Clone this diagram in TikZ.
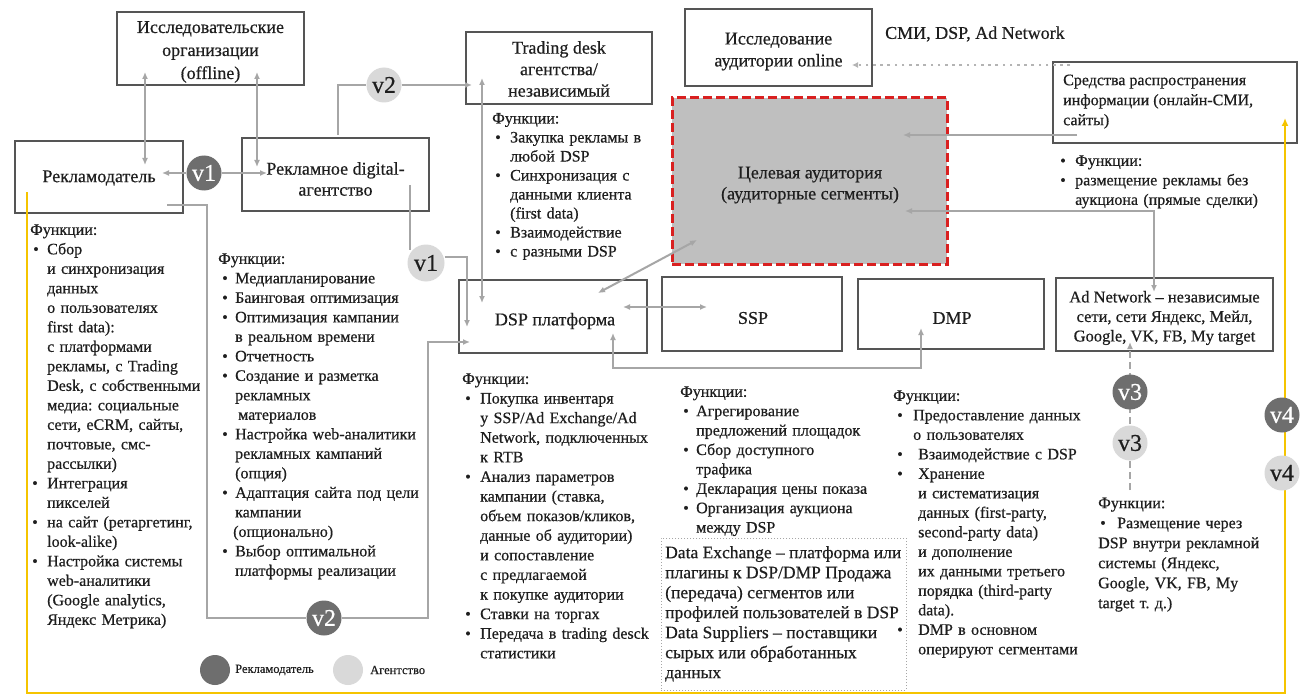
\documentclass[tikz,border=0pt]{standalone}
\usepackage{fontspec}
\setmainfont{Liberation Serif}[FakeBold=0.5]
\usetikzlibrary{arrows.meta}
\frenchspacing
\definecolor{boxc}{HTML}{555555}
\definecolor{linec}{HTML}{A6A6A6}
\definecolor{darkc}{HTML}{6E6E6E}
\definecolor{lightc}{HTML}{D9D9D9}
\definecolor{txt}{HTML}{1E1E1E}
\definecolor{yel}{HTML}{F5C400}
\definecolor{redc}{HTML}{D92020}
\definecolor{tagray}{HTML}{BFBFBF}
\definecolor{dotc}{HTML}{B4B4B4}
\newcommand\bi[2]{\hspace*{#1}\makebox[#2][l]{\textbullet}}
\newcommand\ci[1]{\hspace*{#1}}
\begin{document}
\begin{tikzpicture}[x=1pt,y=-1pt,>={Latex[length=7pt,width=6pt]},
  box/.style={draw=boxc,line width=2.8pt,fill=white,inner sep=0pt},
  boxt/.style={align=center,text=txt,inner sep=0pt,font=\fontsize{18}{23}\selectfont},
  conn/.style={draw=linec,line width=2pt},
  lst/.style={anchor=north west,inner sep=0pt,align=left,text width=270pt,text=txt,font=\fontsize{16}{19.5}\selectfont},
  vd/.style={circle,fill=darkc,text=white,minimum size=35pt,inner sep=0pt,font=\fontsize{24}{24}\selectfont},
  vl/.style={circle,fill=lightc,text=txt,minimum size=35pt,inner sep=0pt,font=\fontsize{24}{24}\selectfont},
  lgd/.style={circle,minimum size=30pt,inner sep=0pt},
  lgt/.style={anchor=west,text=txt,inner sep=0pt,font=\fontsize{12.5}{14}\selectfont}]
\useasboundingbox (0,0) rectangle (1304,698);
\fill[white] (0,0) rectangle (1304,698);

% ---------- boxes ----------
\node[box,minimum width=187pt,minimum height=73pt] (res) at (210.5,48.5) {};
\node[boxt] (rest) at (210.5,52) {Исследовательские\\организации\\(offline)};
\node[box,minimum width=168pt,minimum height=72pt] (adv) at (99,177) {};
\node[boxt] (advt) at (99,178) {Рекламодатель};
\node[box,minimum width=187pt,minimum height=73pt] (ag) at (335.5,174.5) {};
\node[boxt,font=\fontsize{18}{21}\selectfont] (agt) at (335.5,179) {Рекламное digital-\\агентство};
\node[box,minimum width=186pt,minimum height=72pt] (td) at (559,68) {};
\node[boxt,font=\fontsize{18}{21.5}\selectfont] (tdt) at (559,69) {Trading desk\\агентства/\\независимый};
\node[box,minimum width=187pt,minimum height=77pt] (ro) at (778.5,47.5) {};
\node[boxt,font=\fontsize{18}{22}\selectfont] (rot) at (778.5,51.5) {Исследование\\аудитории online};
\node[draw=redc,line width=3pt,dash pattern=on 9pt off 4pt,fill=tagray,minimum width=275pt,minimum height=166pt,inner sep=0pt] (ta) at (809.5,181) {};
\node[boxt,font=\fontsize{18}{21}\selectfont] (tat) at (810,185) {Целевая аудитория\\(аудиторные сегменты)};
\node[box,minimum width=244pt,minimum height=81pt] (sm) at (1175,102.5) {};
\node[anchor=north west,inner sep=0pt,align=left,text=txt,font=\fontsize{16}{20}\selectfont] (smt) at (1063,71) {\strut Средства распространения\\информации (онлайн-СМИ,\\сайты)};
\node[box,minimum width=188pt,minimum height=73pt] (dsp) at (553,316.5) {};
\node[boxt] (dspt) at (555,321) {DSP платформа};
\node[box,minimum width=180pt,minimum height=74pt] (ssp) at (752,314) {};
\node[boxt] (sspt) at (753,318) {SSP};
\node[box,minimum width=186pt,minimum height=70pt] (dmp) at (951,314) {};
\node[boxt] (dmpt) at (952,318) {DMP};
\node[box,minimum width=217pt,minimum height=73pt] (an) at (1164.5,314.5) {};
\node[boxt,font=\fontsize{16.5}{19.5}\selectfont] (ant) at (1164.5,318) {Ad Network – независимые\\сети, сети Яндекс, Мейл,\\Google, VK, FB, My target};
\node[anchor=west,inner sep=0pt,text=txt,font=\fontsize{18}{22}\selectfont] (smi) at (885,34) {СМИ, DSP, Ad Network};

% dotted Data Exchange box
\node[draw=linec,line width=1pt,dotted,minimum width=245pt,minimum height=152pt] (dx) at (783.5,614) {};
\node[anchor=north west,inner sep=0pt,align=left,text=txt,font=\fontsize{17.5}{20}\selectfont] (dxt) at (665,544) {\strut Data Exchange – платформа или\\плагины к DSP/DMP Продажа\\(передача) сегментов или\\профилей пользователей в DSP\\Data Suppliers – поставщики\\сырых или обработанных\\данных};

% ---------- function lists ----------
\node[lst] (fadv) at (30,221) {\strut Функции:\\
\bi{3pt}{14pt}Сбор\\
\ci{17pt}и синхронизация\\
\ci{17pt}данных\\
\ci{17pt}о пользователях\\
\ci{17pt}first data):\\
\ci{17pt}с платформами\\
\ci{17pt}рекламы, с Trading\\
\ci{17pt}Desk, с собственными\\
\ci{17pt}медиа: социальные\\
\ci{17pt}сети, eCRM, сайты,\\
\ci{17pt}почтовые, смс-\\
\ci{17pt}рассылки)\\
\bi{2pt}{15pt}Интеграция\\
\ci{17pt}пикселей\\
\bi{2pt}{15pt}на сайт (ретаргетинг,\\
\ci{17pt}look-alike)\\
\bi{2pt}{15pt}Настройка системы\\
\ci{17pt}web-аналитики\\
\ci{17pt}(Google analytics,\\
\ci{17pt}Яндекс Метрика)};

\node[lst] (fag) at (218,250) {\strut Функции:\\
\bi{4pt}{13pt}Медиапланирование\\
\bi{4pt}{13pt}Баинговая оптимизация\\
\bi{4pt}{13pt}Оптимизация кампании\\
\ci{17pt}в реальном времени\\
\bi{4pt}{13pt}Отчетность\\
\bi{4pt}{13pt}Создание и разметка\\
\ci{17pt}рекламных\\
\ci{20pt}материалов\\
\bi{4pt}{13pt}Настройка web-аналитики\\
\ci{17pt}рекламных кампаний\\
\ci{17pt}(опция)\\
\bi{4pt}{13pt}Адаптация сайта под цели\\
\ci{17pt}кампании\\
\ci{15pt}(опционально)\\
\bi{4pt}{13pt}Выбор оптимальной\\
\ci{17pt}платформы реализации};

\node[lst,font=\fontsize{16}{19}\selectfont] (ftd) at (492,110) {\strut Функции:\\
\bi{3pt}{15pt}Закупка рекламы в\\
\ci{18pt}любой DSP\\
\bi{3pt}{15pt}Синхронизация с\\
\ci{18pt}данными клиента\\
\ci{18pt}(first data)\\
\bi{3pt}{15pt}Взаимодействие\\
\bi{3pt}{15pt}с разными DSP};

\node[lst,font=\fontsize{16}{19.6}\selectfont] (fdsp) at (462,370) {\strut Функции:\\
\bi{3pt}{15pt}Покупка инвентаря\\
\ci{18pt}у SSP/Ad Exchange/Ad\\
\ci{18pt}Network, подключенных\\
\ci{18pt}к RTB\\
\bi{3pt}{15pt}Анализ параметров\\
\ci{18pt}кампании (ставка,\\
\ci{18pt}объем показов/кликов,\\
\ci{18pt}данные об аудитории)\\
\ci{18pt}и сопоставление\\
\ci{18pt}с предлагаемой\\
\ci{18pt}к покупке аудитории\\
\bi{3pt}{15pt}Ставки на торгах\\
\bi{3pt}{15pt}Передача в trading desck\\
\ci{18pt}статистики};

\node[lst,font=\fontsize{16}{19.4}\selectfont] (fssp) at (680,383) {\strut Функции:\\
\bi{3pt}{13pt}Агрегирование\\
\ci{16pt}предложений площадок\\
\bi{3pt}{13pt}Сбор доступного\\
\ci{16pt}трафика\\
\bi{3pt}{13pt}Декларация цены показа\\
\bi{3pt}{13pt}Организация аукциона\\
\ci{16pt}между DSP};

\node[lst] (fdmp) at (893,387) {\strut Функции:\\
\bi{4pt}{16pt}Предоставление данных\\
\ci{20pt}о пользователях\\
\bi{4pt}{21pt}Взаимодействие с DSP\\
\bi{4pt}{21pt}Хранение\\
\ci{25pt}и систематизация\\
\ci{25pt}данных (first-party,\\
\ci{25pt}second-party data)\\
\ci{25pt}и дополнение\\
\ci{25pt}их данными третьего\\
\ci{25pt}порядка (third-party\\
\ci{25pt}data).\\
\bi{4pt}{21pt}DMP в основном\\
\ci{25pt}оперируют сегментами};

\node[lst,font=\fontsize{16}{20}\selectfont] (fan) at (1098,494) {\strut Функции:\\
\bi{2pt}{17pt}Размещение через\\
DSP внутри рекламной\\
системы (Яндекс,\\
Google, VK, FB, My\\
target т. д.)};

\node[lst] (fsm) at (1060,152) {\strut\bi{0pt}{15pt}Функции:\\
\bi{0pt}{15pt}размещение рекламы без\\
\ci{15pt}аукциона (прямые сделки)};

% ---------- connectors ----------
\coordinate (a1) at (145,72);  \coordinate (a2) at (145,165);
\draw[conn,<->] (a1) -- (a2);
\coordinate (b1) at (257,72);  \coordinate (b2) at (257,167);
\draw[conn,<->] (b1) -- (b2);

\node[vd] (v1a) at (204,173) {v1};
\coordinate (p1) at (162,173); \coordinate (p2) at (267,173);
\draw[conn,->] (v1a.west) -- (p1);
\draw[conn,->] (v1a.east) -- (p2);

\node[vl] (v2a) at (384,85) {v2};
\coordinate (q0) at (338,135); \coordinate (q1) at (472,85);
\draw[conn] (q0) |- (v2a.west);
\draw[conn,->] (v2a.east) -- (q1);

\coordinate (t1) at (482,78); \coordinate (t2) at (482,303);
\draw[conn,<->] (t1) -- (t2);

\node[vl,minimum size=37pt] (v1b) at (426,263) {v1};
\coordinate (r0) at (410,185); \coordinate (r1) at (467,327);
\draw[conn] (r0) -- (410,250);
\draw[conn,->] (v1b.east |- 0,257) -| (r1);

\node[vd] (v2b) at (324,618) {v2};
\coordinate (s0) at (167,205); \coordinate (s1) at (428,342); \coordinate (s2) at (470,342);
\draw[conn] (s0) -- (207,205) |- (v2b.west);
\draw[conn,->] (v2b.east) -| (s1) -- (s2);

\coordinate (d1) at (598,293); \coordinate (d2) at (697,240);
\draw[conn,<->] (d1) -- (d2);
\coordinate (e1) at (623,307); \coordinate (e2) at (707,307);
\draw[conn,<->] (e1) -- (e2);
\coordinate (f1) at (613,333); \coordinate (f2) at (921,328);
\draw[conn,<->] (f1) -- (613,368) -| (f2);

\coordinate (g1) at (1077,135); \coordinate (g2) at (903,135);
\draw[conn,->] (g1) -- (g2);
\coordinate (h1) at (1154,292); \coordinate (h2) at (905,211);
\draw[conn,<->] (h1) |- (h2);

\coordinate (k1) at (1070,65); \coordinate (k2) at (852,65);
\draw[draw=dotc,line width=2.6pt,dash pattern=on 2.6pt off 4.6pt,-{Latex[length=6pt,width=6pt]}] (k1) -- (k2);

\coordinate (m1) at (1130,490); \coordinate (m2) at (1130,342);
\draw[conn,dash pattern=on 7pt off 4pt,->] (m1) -- (m2);
\node[vd] (v3a) at (1130,392) {v3};
\node[vl] (v3b) at (1130,443) {v3};

% yellow
\coordinate (y0) at (27,192); \coordinate (y1) at (1285,118);
\draw[draw=yel,line width=2.2pt,-{Latex[length=8pt,width=7pt]}] (y0) -- (27,693) -| (y1);
\node[vd] (v4a) at (1282,415) {v4};
\node[vl] (v4b) at (1282,473) {v4};

% legend
\node[lgd,fill=darkc] (lg1) at (215,670) {};
\node[lgt] (lg1t) at (235,670) {Рекламодатель};
\node[lgd,fill=lightc] (lg2) at (348,670) {};
\node[lgt] (lg2t) at (370,670) {Агентство};
\end{tikzpicture}
\end{document}
